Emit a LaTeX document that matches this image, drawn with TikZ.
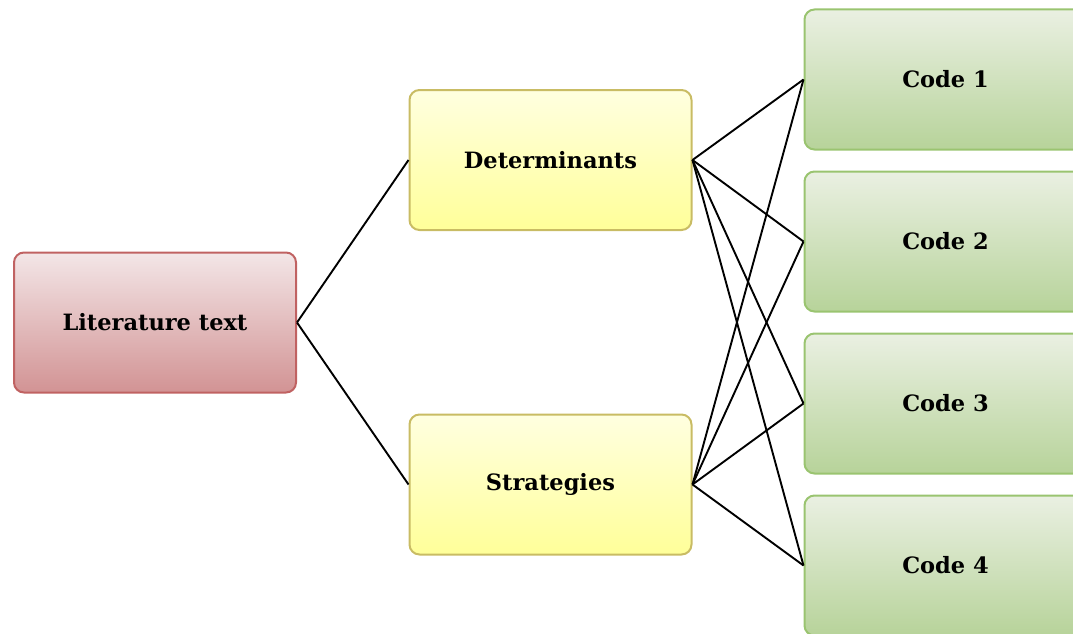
\documentclass[tikz,border=0pt]{standalone}
\usepackage{fontspec}
\setmainfont{DejaVu Serif}
\usetikzlibrary{positioning}
\definecolor{cRedTop}{HTML}{F3E6E7}
\definecolor{cRedBot}{HTML}{D29394}
\definecolor{cRedLine}{HTML}{C06262}
\definecolor{cYelTop}{HTML}{FFFFE0}
\definecolor{cYelBot}{HTML}{FFFF99}
\definecolor{cYelLine}{HTML}{C9BC64}
\definecolor{cGrnTop}{HTML}{EAF0E2}
\definecolor{cGrnBot}{HTML}{B7D39A}
\definecolor{cGrnLine}{HTML}{9AC470}
\definecolor{cInk}{HTML}{000000}

\begin{document}
\begin{tikzpicture}[
  x=1pt,y=1pt,
  font=\bfseries\fontsize{22.5}{26}\selectfont,
  node distance=20pt,
  box/.style={rounded corners=10pt,line width=2pt,align=center,inner sep=0pt,
              minimum width=282pt,minimum height=140pt},
  litbox/.style={box,draw=cRedLine,top color=cRedTop,bottom color=cRedBot},
  keybox/.style={box,draw=cYelLine,top color=cYelTop,bottom color=cYelBot},
  codebox/.style={box,draw=cGrnLine,top color=cGrnTop,bottom color=cGrnBot},
  link/.style={line width=1.9pt,cInk}
]
\clip (0,0) rectangle (1073,-634);

\node[litbox] (lit) at (155,-322.5) {Literature text};
\node[keybox] (det) at (550.5,-160) {Determinants};
\node[keybox] (str) at (550.5,-484.5) {Strategies};

\node[codebox] (c1) at (945.5,-79.5) {Code 1};
\node[codebox,below=of c1] (c2) {Code 2};
\node[codebox,below=of c2] (c3) {Code 3};
\node[codebox,below=of c3] (c4) {Code 4};

\draw[link] (lit.east) -- (det.west);
\draw[link] (lit.east) -- (str.west);

\draw[link] (det.east) -- (c1.west);
\draw[link] (det.east) -- (c2.west);
\draw[link] (det.east) -- (c3.west);
\draw[link] (det.east) -- (c4.west);

\draw[link] (str.east) -- (c1.west);
\draw[link] (str.east) -- (c2.west);
\draw[link] (str.east) -- (c3.west);
\draw[link] (str.east) -- (c4.west);

\end{tikzpicture}
\end{document}
